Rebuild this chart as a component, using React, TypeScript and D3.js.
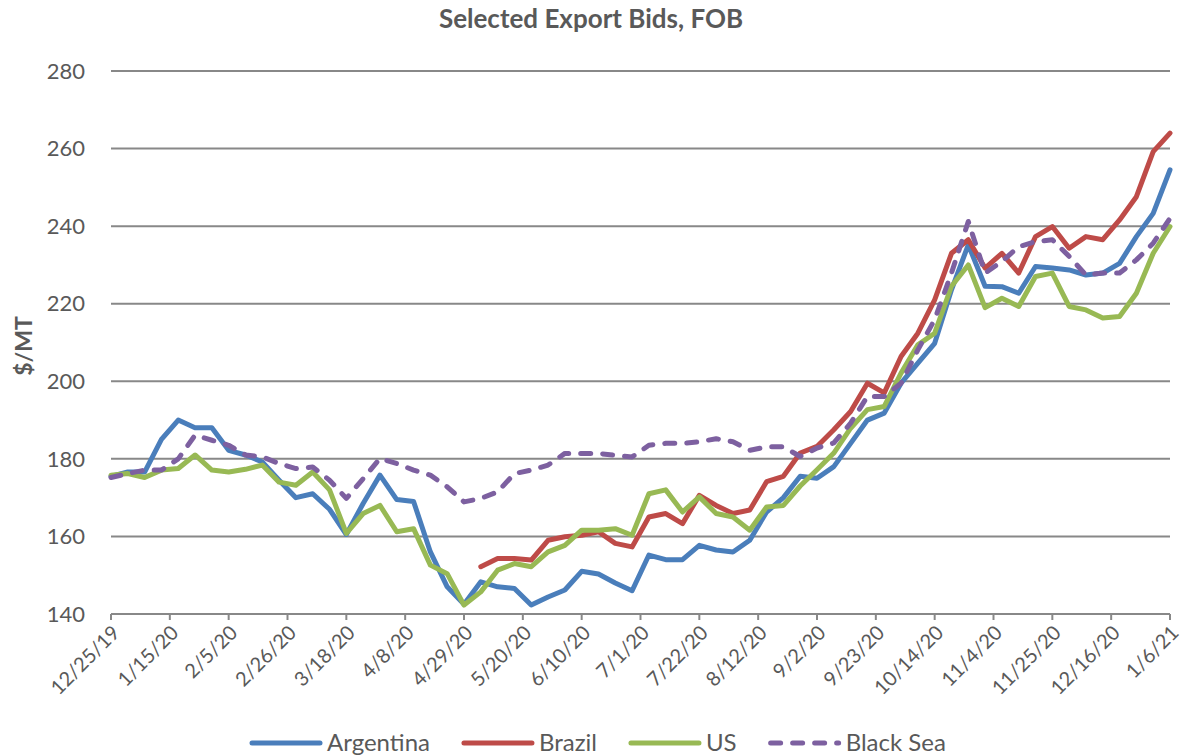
import React, { useEffect, useRef } from 'react';
import * as d3 from 'd3';

// x axis tick labels (every 3 weeks)
const tickLabels = ['12/25/19', '1/15/20', '2/5/20', '2/26/20', '3/18/20', '4/8/20', '4/29/20', '5/20/20', '6/10/20',
  '7/1/20', '7/22/20', '8/12/20', '9/2/20', '9/23/20', '10/14/20', '11/4/20', '11/25/20', '12/16/20', '1/6/21'];

// values read every 6 days starting 12/25/19
const startDate = '12/25/19';
const stepDays = 6;

const argentina = [175.5, 176.6, 176.6, 185, 190, 188, 188, 182.2, 181, 179.2,
  174.5, 170, 171, 167, 160.5, 168.5, 175.8, 169.5, 169, 156,
  147, 142.5, 148.3, 147, 146.6, 142.3, 144.4, 146.2, 151, 150.3,
  148, 146, 155.2, 154, 154, 157.7, 156.5, 156, 159, 166.3,
  170, 175.5, 175, 178, 184, 190, 191.8, 199.5, 204.7, 209.8,
  223.6, 235.2, 224.5, 224.4, 222.7, 229.6, 229.2, 228.7, 227.4, 227.9,
  230.4, 237.3, 243.3, 254.5];

const brazil = [null, null, null, null, null, null, null, null, null, null,
  null, null, null, null, null, null, null, null, null, null,
  null, null, 152.2, 154.3, 154.3, 153.9, 159, 159.9, 160.3, 161.2,
  158.2, 157.3, 165, 165.9, 163.3, 170.6, 168, 165.9, 166.8, 174.1,
  175.5, 181.5, 183.2, 187.5, 192.2, 199.5, 197, 206.4, 212.4, 221,
  233, 236.5, 229.2, 233, 227.9, 237.3, 239.9, 234.3, 237.3, 236.5,
  241.6, 247.6, 259.2, 264];

const us = [175.8, 176.2, 175.2, 177.1, 177.5, 181, 177.1, 176.6, 177.3, 178.4,
  174, 173.2, 176.6, 172, 160.8, 165.9, 168, 161.2, 162, 152.6,
  150.4, 142.3, 145.7, 151.3, 153, 152.2, 156, 157.7, 161.6, 161.6,
  162, 160.3, 171, 172, 166.3, 170.2, 165.9, 165, 161.6, 167.6,
  168, 173, 177.2, 181.5, 187.9, 192.7, 193.5, 202.1, 209.4, 212.4,
  224.5, 230, 219, 221.4, 219.3, 227, 227.9, 219.3, 218.4, 216.3,
  216.7, 222.7, 233, 239.9];

const blackSea = [175.2, 176.2, 177.1, 177.1, 180, 186.1, 184.8, 183.5, 181, 180.5,
  178.8, 177.5, 177.9, 174.5, 169.8, 174.9, 180.1, 178.8, 177.1, 175.8,
  172.8, 168.9, 169.8, 171.5, 176.2, 177.1, 178.4, 181.4, 181.4, 181.4,
  180.9, 180.5, 183.5, 184, 184, 184.4, 185.2, 184.4, 182.2, 183.1,
  183.1, 180.6, 182.8, 184.1, 189.2, 196.1, 196.1, 199.5, 208.1, 215.9,
  227.9, 241.2, 227.9, 230.9, 234.7, 236, 236.5, 232.2, 227.4, 227.9,
  227.9, 231.3, 235.6, 242];

const seriesNames = ['Argentina', 'Brazil', 'US', 'Black Sea'];
const seriesColors = ['#4a7ebb', '#be4b48', '#98b954', '#7d60a0'];

export default function App() {
  const ref = useRef<SVGSVGElement>(null);

  useEffect(() => {
    const width = 1181;
    const height = 756;
    const font = 'Lato, "Open Sans", sans-serif';
    const textColor = '#595959';

    const svg = d3.select(ref.current);
    svg.selectAll('*').remove();

    const parse = d3.timeParse('%m/%d/%y');
    const tickDates = tickLabels.map((d) => parse(d) as Date);
    const start = parse(startDate) as Date;
    const dates = argentina.map((_, i) => d3.timeDay.offset(start, i * stepDays));

    const x = d3.scaleTime()
      .domain([tickDates[0], tickDates[tickDates.length - 1]])
      .range([111, 1170]);
    const y = d3.scaleLinear().domain([140, 280]).range([614, 71]);

    svg.append('rect').attr('width', width).attr('height', height).attr('fill', '#fff');

    // title
    svg.append('text')
      .attr('x', 591).attr('y', 28)
      .attr('text-anchor', 'middle')
      .style('font-family', font).style('font-weight', 700).style('font-size', '26px')
      .attr('fill', textColor)
      .text('Selected Export Bids, FOB');

    // gridlines
    const yTicks = d3.range(140, 281, 20);
    svg.selectAll('line.grid')
      .data(yTicks)
      .enter()
      .append('line')
      .attr('x1', 111).attr('x2', 1170)
      .attr('y1', (d) => y(d)).attr('y2', (d) => y(d))
      .attr('stroke', '#888888')
      .attr('stroke-width', 2);

    svg.selectAll('text.ylab')
      .data(yTicks)
      .enter()
      .append('text')
      .attr('x', 85).attr('y', (d) => y(d))
      .attr('dy', '0.35em')
      .attr('text-anchor', 'end')
      .style('font-family', font).style('font-size', '22px')
      .attr('fill', textColor)
      .text((d) => d);

    // y axis title
    svg.append('text')
      .attr('transform', 'translate(32,346) rotate(-90)')
      .attr('text-anchor', 'middle')
      .style('font-family', font).style('font-weight', 700).style('font-size', '23px')
      .attr('fill', textColor)
      .text('$/MT');

    // x ticks + labels
    svg.selectAll('line.xtick')
      .data(tickDates)
      .enter()
      .append('line')
      .attr('x1', (d) => x(d)).attr('x2', (d) => x(d))
      .attr('y1', 614).attr('y2', 620)
      .attr('stroke', '#888888')
      .attr('stroke-width', 2);

    svg.selectAll('text.xlab')
      .data(tickDates)
      .enter()
      .append('text')
      .attr('transform', (d) => 'translate(' + (x(d) + 5) + ',629) rotate(-45)')
      .attr('text-anchor', 'end')
      .attr('dy', '0.35em')
      .style('font-family', font).style('font-size', '20px')
      .attr('fill', textColor)
      .text((d, i) => tickLabels[i]);

    // lines
    const allSeries = [argentina, brazil, us, blackSea];
    const line = d3.line<number | null>()
      .defined((d) => d !== null)
      .x((d, i) => x(dates[i]))
      .y((d) => y(d as number));

    allSeries.forEach((values, k) => {
      svg.append('path')
        .datum(values)
        .attr('d', line)
        .attr('fill', 'none')
        .attr('stroke', seriesColors[k])
        .attr('stroke-width', 5)
        .attr('stroke-linejoin', 'round')
        .attr('stroke-linecap', 'round')
        .attr('stroke-dasharray', k === 3 ? '10,12' : null);
    });

    // legend
    const legend = svg.append('g');
    let lx = 250;
    const ly = 743;
    seriesNames.forEach((name, k) => {
      legend.append('line')
        .attr('x1', lx + 2).attr('x2', lx + 70)
        .attr('y1', ly).attr('y2', ly)
        .attr('stroke', seriesColors[k])
        .attr('stroke-width', 5)
        .attr('stroke-linecap', 'round')
        .attr('stroke-dasharray', k === 3 ? '10,12' : null);
      const t = legend.append('text')
        .attr('x', lx + 77).attr('y', ly)
        .attr('dy', '0.35em')
        .style('font-family', font).style('font-size', '24px')
        .attr('fill', textColor)
        .text(name);
      const w = (t.node() as SVGTextElement).getComputedTextLength();
      lx = lx + 77 + w + 32;
    });
  }, []);

  return (
    <svg ref={ref} width={1181} height={756}
      style={{ position: 'absolute', left: 0, top: 0, display: 'block' }} />
  );
}
